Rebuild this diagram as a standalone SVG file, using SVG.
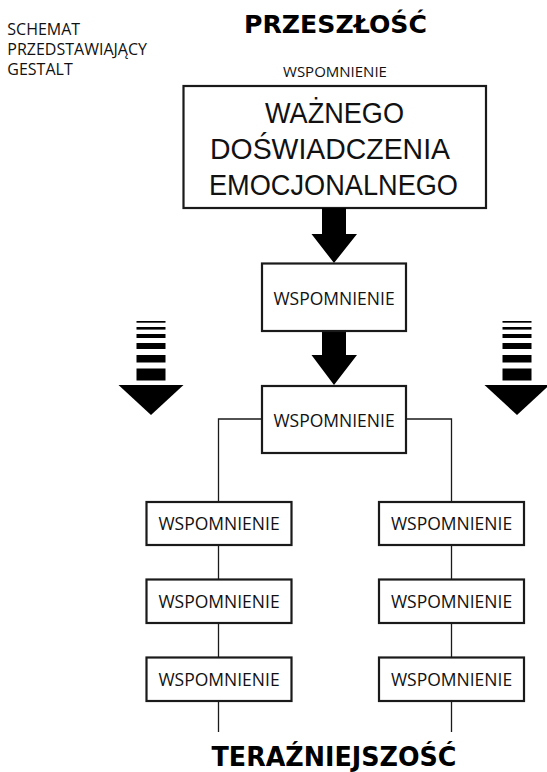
<svg xmlns="http://www.w3.org/2000/svg" xmlns:xlink="http://www.w3.org/1999/xlink" width="547" height="772" viewBox="0 0 547 772">
  <style>
    .box { fill: #ffffff; stroke: #1a1a1a; stroke-width: 2.2; }
    .lbl { font-family: "Open Sans", "Liberation Sans", sans-serif; fill: #111; text-anchor: middle; }
    .big { font-family: "Liberation Sans", Arial, sans-serif; fill: #111; text-anchor: middle; font-size: 30px; }
    .small { font-family: "Open Sans", "Liberation Sans", sans-serif; fill: #111; font-size: 16px; }
    .title { font-family: "DejaVu Sans", "Open Sans", sans-serif; font-weight: bold; fill: #000; text-anchor: middle; }
    .conn { fill: none; stroke: #1a1a1a; stroke-width: 1.3; }
    .arrow { fill: #000; }
  </style>
  <defs>
    <g id="stripedArrow">
      <rect x="-14.5" y="321" width="29" height="1.7"/>
      <rect x="-14.5" y="327" width="29" height="2.6"/>
      <rect x="-14.5" y="334" width="29" height="4"/>
      <rect x="-14.5" y="343" width="29" height="6"/>
      <rect x="-14.5" y="355" width="29" height="7.5"/>
      <rect x="-14.5" y="368.5" width="29" height="12"/>
      <polygon points="-32.5,385 32.5,385 0,415"/>
    </g>
  </defs>

  <g id="header">
    <text class="small" x="7.3" y="35">SCHEMAT</text>
    <text class="small" x="7.3" y="55">PRZEDSTAWIAJĄCY</text>
    <text class="small" x="7.3" y="75">GESTALT</text>
  </g>

  <g id="title-past">
    <text class="title" x="335.5" y="33" font-size="25" textLength="183" lengthAdjust="spacingAndGlyphs">PRZESZŁOŚĆ</text>
  </g>

  <g id="label-top">
    <text class="lbl" x="335" y="77" font-size="15">WSPOMNIENIE</text>
  </g>

  <g id="node-main">
    <rect class="box" x="183.5" y="86" width="302.5" height="122"/>
    <text class="big" x="334.5" y="123" textLength="139" lengthAdjust="spacingAndGlyphs">WAŻNEGO</text>
    <text class="big" x="330" y="158.5" textLength="240" lengthAdjust="spacingAndGlyphs">DOŚWIADCZENIA</text>
    <text class="big" x="333.5" y="195" textLength="249" lengthAdjust="spacingAndGlyphs">EMOCJONALNEGO</text>
  </g>

  <g id="arrows-main">
    <polygon class="arrow" points="322,208 346,208 346,234 357,234 334,263 311.5,234 322,234"/>
    <polygon class="arrow" points="322,331 346,331 346,355 357,355 334,385 311.5,355 322,355"/>
  </g>

  <g id="node-1">
    <rect class="box" x="262" y="263.5" width="144" height="67.5"/>
    <text class="lbl" x="334" y="305" font-size="17.5">WSPOMNIENIE</text>
  </g>

  <g id="node-2">
    <rect class="box" x="262" y="386" width="144" height="67"/>
    <text class="lbl" x="334" y="426.5" font-size="17.5">WSPOMNIENIE</text>
  </g>

  <g id="side-arrow-left">
    <use xlink:href="#stripedArrow" href="#stripedArrow" x="151" y="0" class="arrow"/>
  </g>
  <g id="side-arrow-right">
    <use xlink:href="#stripedArrow" href="#stripedArrow" x="517" y="0" class="arrow"/>
  </g>

  <g id="connectors">
    <polyline class="conn" points="262,419 218.5,419 218.5,502"/>
    <polyline class="conn" points="406,419 451.5,419 451.5,502"/>
    <line class="conn" x1="218.5" y1="545" x2="218.5" y2="579"/>
    <line class="conn" x1="218.5" y1="623" x2="218.5" y2="657"/>
    <line class="conn" x1="218.5" y1="701" x2="218.5" y2="732"/>
    <line class="conn" x1="451.5" y1="545" x2="451.5" y2="579"/>
    <line class="conn" x1="451.5" y1="623" x2="451.5" y2="657"/>
    <line class="conn" x1="451.5" y1="701" x2="451.5" y2="732"/>
  </g>

  <g id="node-l1">
    <rect class="box" x="146.5" y="502" width="145" height="43"/>
    <text class="lbl" x="219" y="530" font-size="17.5">WSPOMNIENIE</text>
  </g>
  <g id="node-l2">
    <rect class="box" x="146.5" y="579.5" width="145" height="43.5"/>
    <text class="lbl" x="219" y="607.5" font-size="17.5">WSPOMNIENIE</text>
  </g>
  <g id="node-l3">
    <rect class="box" x="146.5" y="657.5" width="145" height="43.5"/>
    <text class="lbl" x="219" y="685.5" font-size="17.5">WSPOMNIENIE</text>
  </g>
  <g id="node-r1">
    <rect class="box" x="379" y="502" width="145" height="43"/>
    <text class="lbl" x="451.5" y="530" font-size="17.5">WSPOMNIENIE</text>
  </g>
  <g id="node-r2">
    <rect class="box" x="379" y="579.5" width="145" height="43.5"/>
    <text class="lbl" x="451.5" y="607.5" font-size="17.5">WSPOMNIENIE</text>
  </g>
  <g id="node-r3">
    <rect class="box" x="379" y="657.5" width="145" height="43.5"/>
    <text class="lbl" x="451.5" y="685.5" font-size="17.5">WSPOMNIENIE</text>
  </g>

  <g id="title-present">
    <text class="title" x="334" y="765.5" font-size="26" textLength="245" lengthAdjust="spacingAndGlyphs">TERAŹNIEJSZOŚĆ</text>
  </g>
</svg>
